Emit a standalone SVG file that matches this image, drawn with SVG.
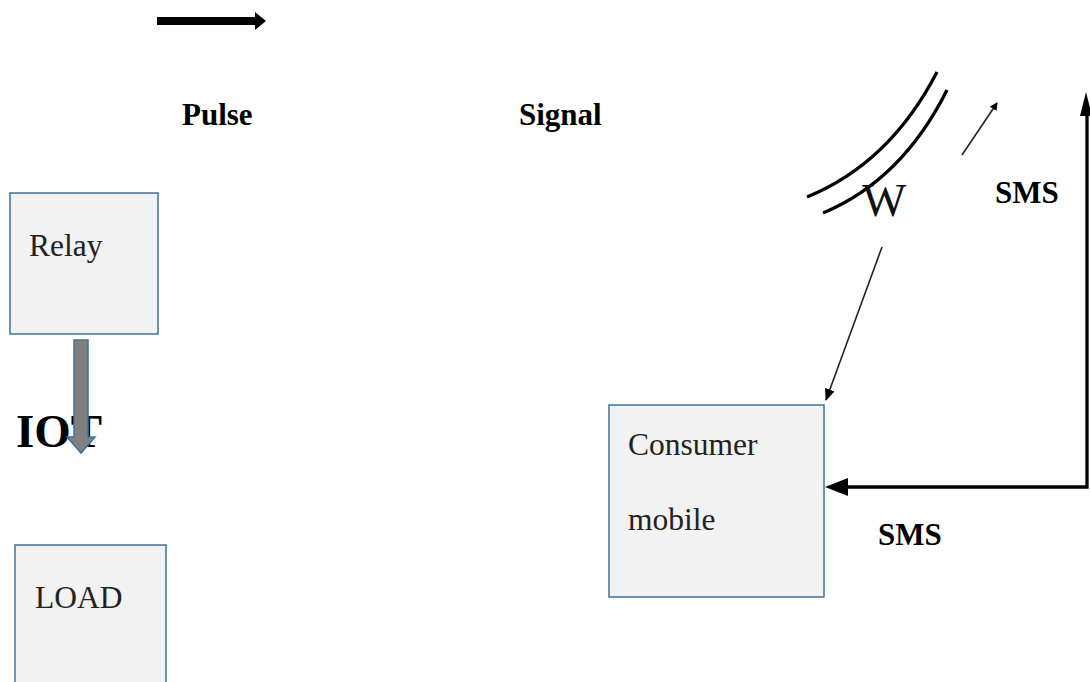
<svg xmlns="http://www.w3.org/2000/svg" width="1090" height="682" viewBox="0 0 1090 682">
<style>
.box{fill:#f2f2f2;stroke:#41719c;stroke-width:1.5}
.bt{font-family:"Liberation Serif",serif;font-size:31.5px;fill:#222}
.lb{font-family:"Liberation Serif",serif;font-size:31px;font-weight:bold;fill:#000}
.thin{stroke:#222;stroke-width:1.6;fill:none}
.thick{stroke:#000;stroke-width:3.3;fill:none}
</style>
<defs>
<marker id="sm" markerWidth="8" markerHeight="8" refX="7" refY="4" orient="auto" markerUnits="userSpaceOnUse" viewBox="0 0 8 8"><path d="M0,0 L8,4 L0,8 Z" fill="#000"/></marker>
<marker id="sm2" markerWidth="12" markerHeight="10" refX="11" refY="5" orient="auto" markerUnits="userSpaceOnUse" viewBox="0 0 12 10"><path d="M0,0 L12,5 L0,10 Z" fill="#000"/></marker>
</defs>
<rect width="1090" height="682" fill="#fff"/>

<g id="pulse-arrow">
<rect x="157" y="17" width="99" height="8" fill="#000"/>
<path d="M255,12 L266,21 L255,30 Z" fill="#000"/>
</g>

<text class="lb" x="182" y="125">Pulse</text>
<text class="lb" x="519" y="125">Signal</text>

<g id="relay">
<rect class="box" x="10" y="193" width="148" height="141"/>
<text class="bt" x="29" y="256">Relay</text>
</g>

<g id="iot">
<text font-family="Liberation Serif, serif" font-size="47" font-weight="bold" x="16" y="447">IOT</text>
</g>

<g id="load">
<rect class="box" x="15" y="545" width="151" height="145"/>
<text class="bt" x="35" y="608">LOAD</text>
</g>

<g id="consumer-mobile">
<rect class="box" x="609" y="405" width="215" height="192"/>
<text class="bt" x="628" y="455">Consumer</text>
<text class="bt" x="628" y="530">mobile</text>
</g>

<g id="antenna">
<path class="thick" d="M807,197 Q890,163 937,72"/>
<path class="thick" d="M823,213 Q902,180 947,90"/>
<text font-family="Liberation Serif, serif" font-size="47" x="862" y="216" fill="#111">W</text>
</g>

<g id="connectors">
<path d="M74,340 L88,340 L88,437 L95,437 L81,453 L67,437 L74,437 Z" fill="#808080" stroke="#41719c" stroke-width="1.5"/>
<line class="thin" x1="882" y1="247" x2="826" y2="400" marker-end="url(#sm2)"/>
<line class="thin" x1="962" y1="155" x2="997" y2="103" marker-end="url(#sm)"/>
<path class="thick" d="M848,487 L1087,487 L1087,112"/>
<path d="M848,478 L825,487 L848,496 Z" fill="#000"/>
<path d="M1080,116 L1086,92 L1092,116 Z" fill="#000"/>
</g>

<text class="lb" x="995" y="203">SMS</text>
<text class="lb" x="878" y="545">SMS</text>
</svg>
